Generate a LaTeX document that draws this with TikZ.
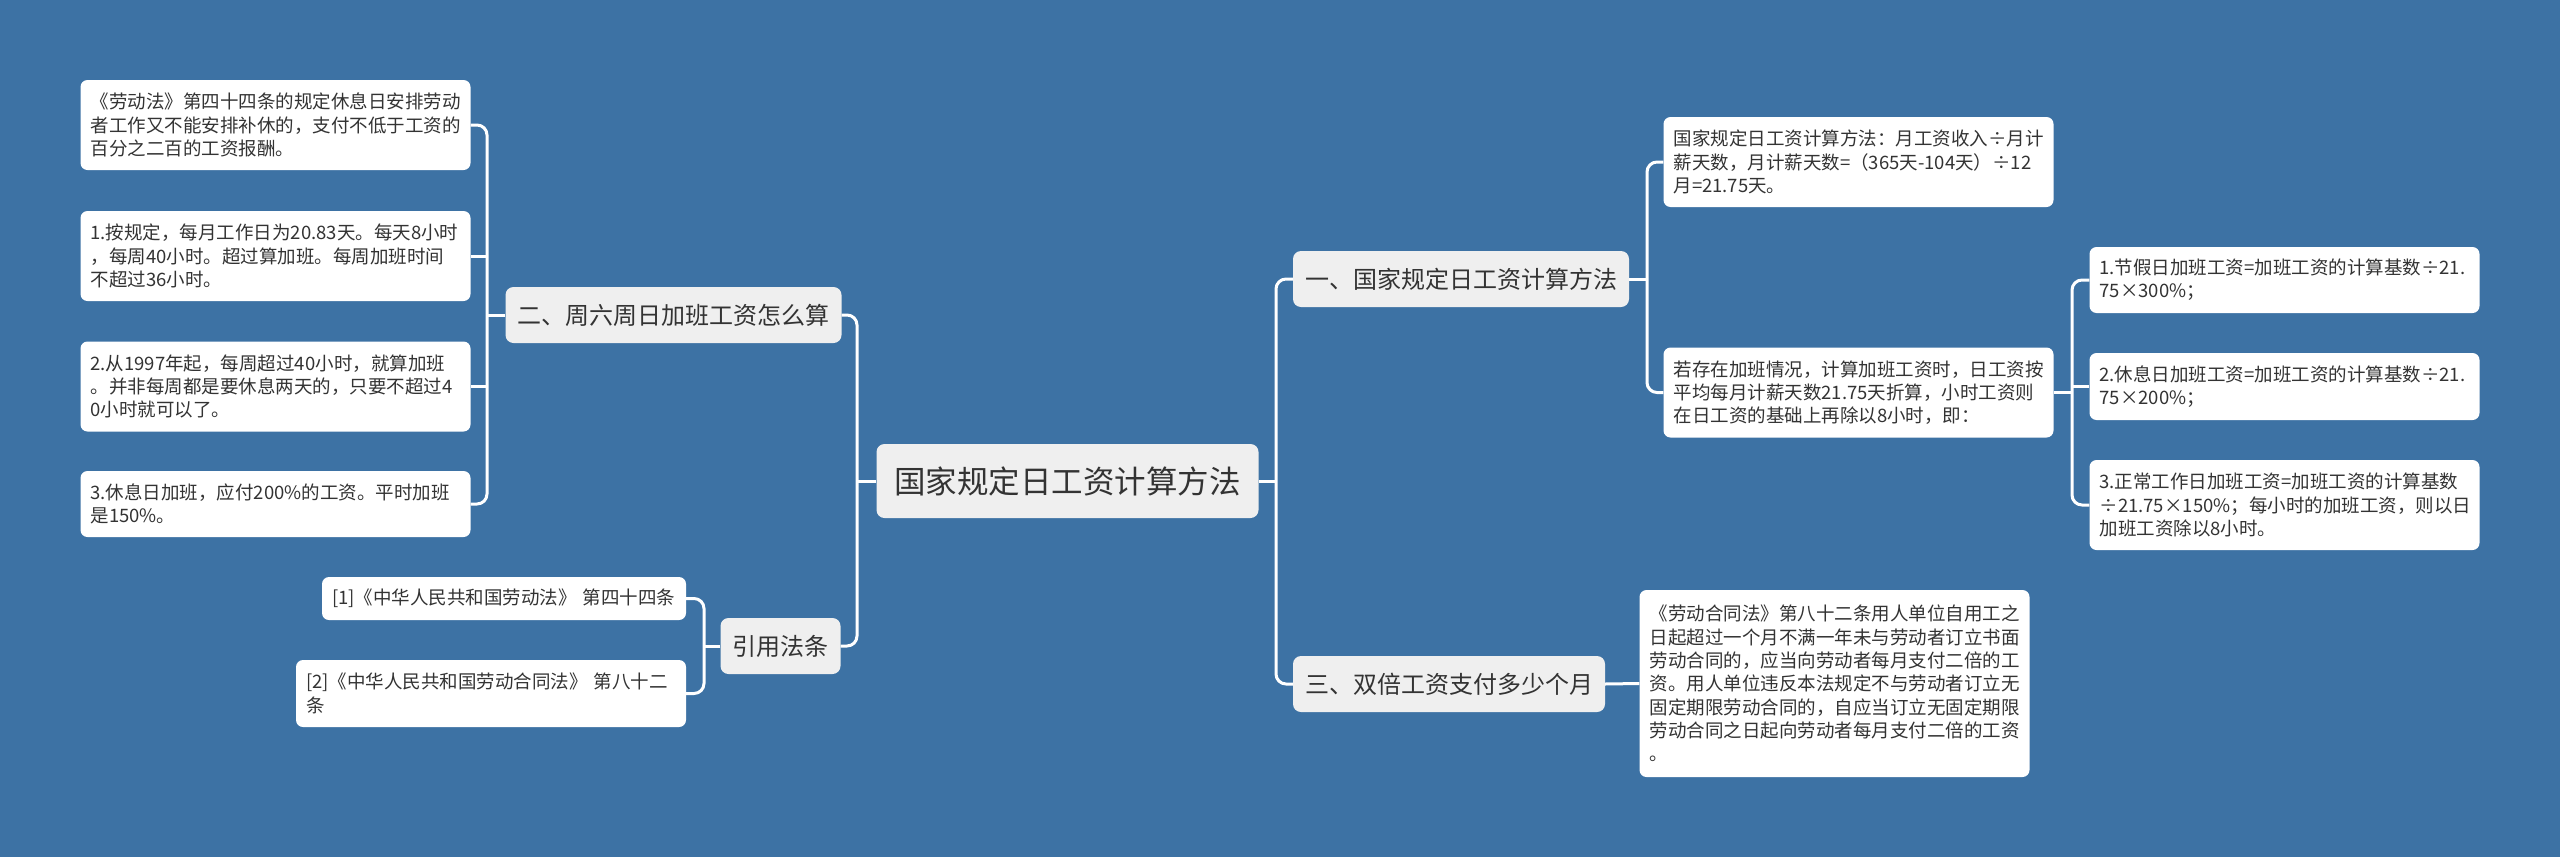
\documentclass[tikz,border=0pt]{standalone}
\usepackage{fontspec}
\setmainfont{Noto Sans CJK SC}
\definecolor{bg}{HTML}{3D72A4}
\definecolor{txt}{HTML}{333333}
\definecolor{branchfill}{HTML}{EFEFEF}
\newcommand\leaffont{\fontsize{18.5}{23.3}\selectfont}
\newcommand\branchfont{\fontsize{24}{28}\selectfont}
\newcommand\rootfont{\fontsize{31.5}{36}\selectfont}
\tikzset{
  leafbox/.style={fill=white, rounded corners=7pt, text width=370pt, inner xsep=10pt, inner ysep=0pt, align=left, font=\leaffont, text=txt},
  branchbox/.style={fill=branchfill, rounded corners=8pt, inner xsep=12pt, inner ysep=0pt, minimum height=56pt, font=\branchfont, text=txt},
  rootbox/.style={fill=branchfill, rounded corners=8pt, inner xsep=10pt, inner ysep=0pt, minimum height=74pt, minimum width=382pt, font=\rootfont, text=txt},
  conn/.style={draw=white, line width=3pt, rounded corners=10pt}
}
\begin{document}
\begin{tikzpicture}[x=1pt,y=-1pt]
\useasboundingbox[fill=bg] (0,0) rectangle (2560,857);

% root
\node[rootbox] (c) at (1067.5,481) {国家规定日工资计算方法};

% branches
\node[branchbox] (b2) at (673.5,315) {二、周六周日加班工资怎么算};
\node[branchbox] (b4) at (780.5,646) {引用法条};
\node[branchbox] (b1) at (1461,279) {一、国家规定日工资计算方法};
\node[branchbox] (b3) at (1449,684) {三、双倍工资支付多少个月};

% left leaves
\node[leafbox, minimum height=90pt] (L1) at (275.5,125) {《劳动法》第四十四条的规定休息日安排劳动\\者工作又不能安排补休的，支付不低于工资的\\百分之二百的工资报酬。};
\node[leafbox, minimum height=90pt] (L2) at (275.5,256) {1.按规定，每月工作日为20.83天。每天8小时\\，每周40小时。超过算加班。每周加班时间\\不超过36小时。};
\node[leafbox, minimum height=90pt] (L3) at (275.5,386.5) {2.从1997年起，每周超过40小时，就算加班\\。并非每周都是要休息两天的，只要不超过4\\0小时就可以了。};
\node[leafbox, minimum height=66pt] (L4) at (275.5,504) {3.休息日加班，应付200\%的工资。平时加班\\是150\%。};

\node[leafbox, text width=344pt, minimum height=43pt] (R1) at (504,598.5) {[1]《中华人民共和国劳动法》 第四十四条};
\node[leafbox, minimum height=67pt] (R2) at (491,693.5) {[2]《中华人民共和国劳动合同法》 第八十二\\条};

% right leaves
\node[leafbox, minimum height=90pt] (A) at (1858.5,162) {国家规定日工资计算方法：月工资收入÷月计\\薪天数，月计薪天数=（365天-104天）÷12\\月=21.75天。};
\node[leafbox, minimum height=90pt] (B) at (1858.5,392.5) {若存在加班情况，计算加班工资时，日工资按\\平均每月计薪天数21.75天折算，小时工资则\\在日工资的基础上再除以8小时，即：};

\node[leafbox, minimum height=66pt] (C1) at (2284.5,280) {1.节假日加班工资=加班工资的计算基数÷21.\\75×300\%；};
\node[leafbox, minimum height=67pt] (C2) at (2284.5,386.5) {2.休息日加班工资=加班工资的计算基数÷21.\\75×200\%；};
\node[leafbox, minimum height=90pt] (C3) at (2284.5,505) {3.正常工作日加班工资=加班工资的计算基数\\÷21.75×150\%；每小时的加班工资，则以日\\加班工资除以8小时。};

\node[leafbox, minimum height=187pt] (D) at (1834.5,683.5) {《劳动合同法》第八十二条用人单位自用工之\\日起超过一个月不满一年未与劳动者订立书面\\劳动合同的，应当向劳动者每月支付二倍的工\\资。用人单位违反本法规定不与劳动者订立无\\固定期限劳动合同的，自应当订立无固定期限\\劳动合同之日起向劳动者每月支付二倍的工资\\。};

% spine coordinates
\coordinate (sL) at (857,481);
\coordinate (sR) at (1276,481);
\coordinate (s2) at (487,315);
\coordinate (s4) at (704,646);
\coordinate (s1) at (1647,279);
\coordinate (sB) at (2072,392.5);

% connectors root
\draw[conn] (c.west) -- (sL);
\draw[conn] (b2.east) -| (sL) |- (b4.east);
\draw[conn] (c.east) -- (sR);
\draw[conn] (b1.west) -| (sR) |- (b3.west);

% left branch 二
\draw[conn] (b2.west) -- (s2);
\draw[conn] (L1.east) -| (s2) |- (L4.east);
\draw[conn] (L2.east) -- (L2.east -| s2);
\draw[conn] (L3.east) -- (L3.east -| s2);

% 引用法条
\draw[conn] (b4.west) -- (s4);
\draw[conn] (R1.east) -| (s4) |- (R2.east);

% 一
\draw[conn] (b1.east) -- (s1);
\draw[conn] (A.west) -| (s1) |- (B.west);

% B
\draw[conn] (B.east) -- (sB);
\draw[conn] (C1.west) -| (sB) |- (C3.west);
\draw[conn] (C2.west) -- (C2.west -| sB);

% 三
\draw[conn] (b3.east) -- (D.west);
\end{tikzpicture}
\end{document}
